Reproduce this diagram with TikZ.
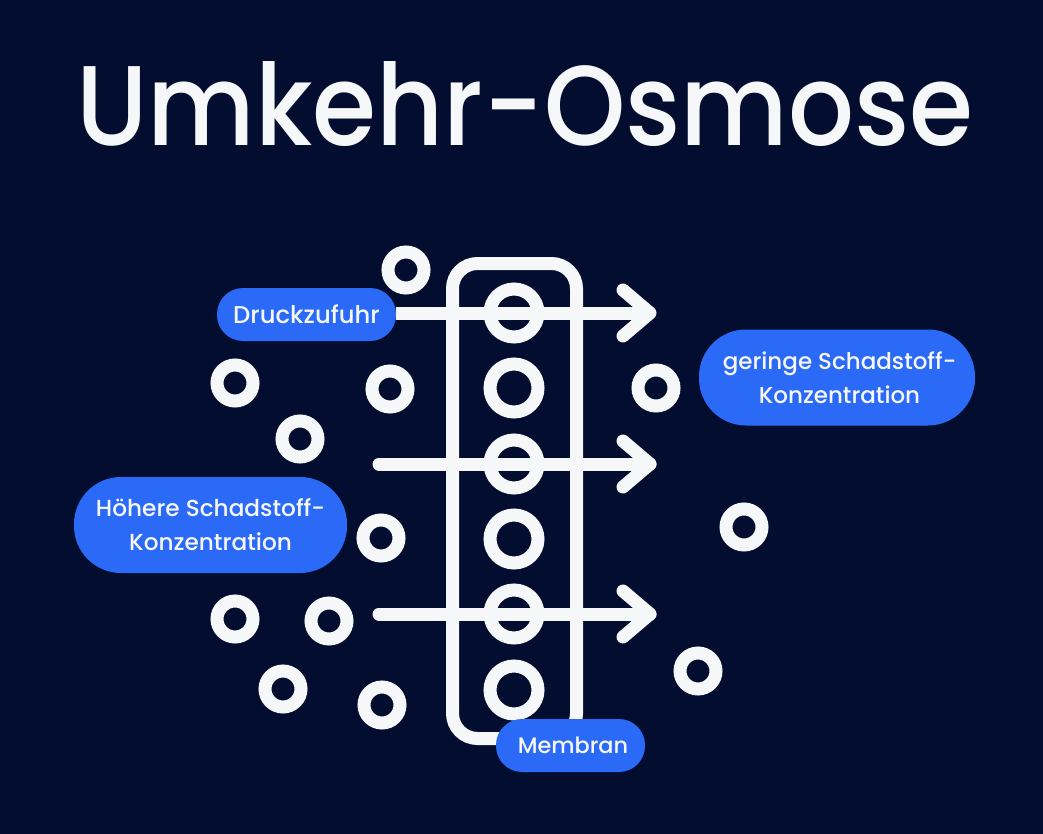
\documentclass[tikz,border=0pt]{standalone}
\usepackage{fontspec}
\setmainfont{Poppins}[UprightFont=* Medium]
\definecolor{bgc}{HTML}{020D2F}
\definecolor{pillc}{HTML}{2A6AF6}
\definecolor{inkc}{HTML}{F6F7F9}
\tikzset{
  ringsmall/.style={circle,draw=inkc,line width=13pt,minimum size=36pt,inner sep=0pt},
  ringbig/.style={circle,draw=inkc,line width=13pt,minimum size=48pt,inner sep=0pt},
  pill/.style={fill=pillc,text=inkc,rounded corners=#1,inner sep=0pt,align=center},
  flow/.style={draw=inkc,line width=13pt,line cap=round,line join=round},
}
\newcommand{\labelsize}[1]{\fontsize{#1}{34pt}\selectfont}
\begin{document}
\begin{tikzpicture}[x=1pt,y=-1pt]
\useasboundingbox[fill=bgc] (0,0) rectangle (1043,834);
\node[inner sep=0pt,text=inkc,anchor=base] (title) at (525,146) {\resizebox{897pt}{84pt}{\fontsize{100pt}{100pt}\selectfont Umkehr-Osmose}};
% labels beneath the connectors
\node[pill=26pt,minimum width=179pt,minimum height=53pt,font=\labelsize{24.3pt}] (druck) at (306.5,314.5) {Druckzufuhr};
% rings
\foreach \n/\px/\py in {a/406/270,b/235/383,c/390/389,d/656/388,e/300/439,f/381/538,g/744/527,h/235/619,i/329/621,j/283/689,k/382/705,l/698/671}
  \node[ringsmall] (s\n) at (\px,\py) {};
\foreach \n/\py in {1/313,2/388,3/464,4/539,5/614,6/690}
  \node[ringbig] (m\n) at (514,\py) {};
% membrane
\node[draw=inkc,line width=13pt,rounded corners=25pt,minimum width=124pt,minimum height=475pt,inner sep=0pt] (membrane) at (514.5,501) {};
% arrows
\coordinate (t1) at (650,313);
\coordinate (t2) at (650,464);
\coordinate (t3) at (650,614);
\coordinate (s2) at (379,464);
\coordinate (s3) at (379,614);
\draw[flow,line cap=butt] (druck.east |- t1) -- (t1);
\draw[flow] (s2) -- (t2);
\draw[flow] (s3) -- (t3);
\foreach \t in {t1,t2,t3}
  \draw[flow] ([shift={(-27,-23)}]\t) -- (\t) -- ([shift={(-27,23)}]\t);
% labels on top
\node[pill=26pt,minimum width=149pt,minimum height=53pt,font=\labelsize{22.4pt}] (membran) at (570.5,745.5) {\hspace*{5pt}Membran};
\node[pill=47pt,minimum width=273pt,minimum height=96pt,font=\labelsize{23.2pt}] (hoch) at (210.5,525) {Höhere Schadstoff-\\Konzentration};
\node[pill=47pt,minimum width=276pt,minimum height=96pt,font=\labelsize{23pt}] (gering) at (837,377.5) {\hspace*{5pt}geringe Schadstoff-\\\hspace*{5pt}Konzentration};
\end{tikzpicture}
\end{document}
